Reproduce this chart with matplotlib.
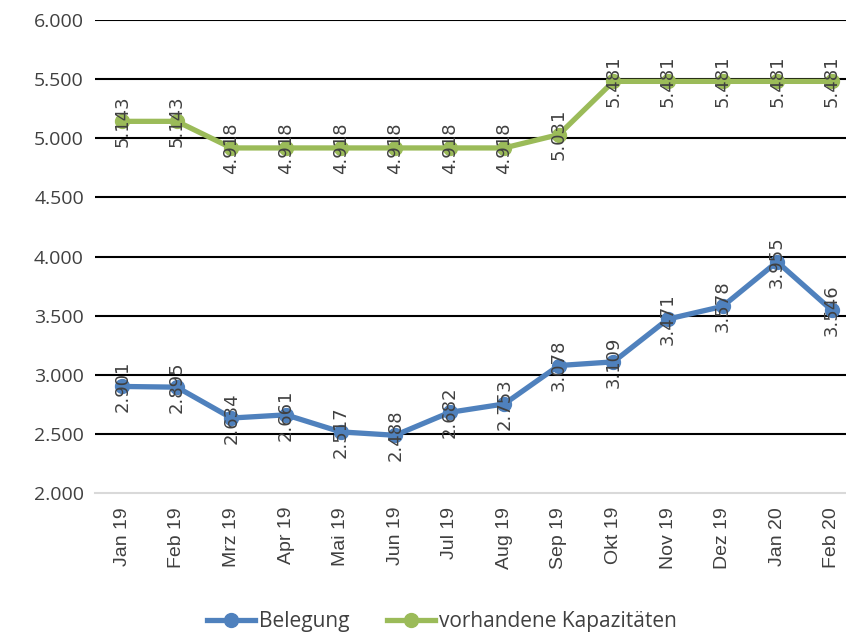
import matplotlib
matplotlib.use("Agg")
import matplotlib.pyplot as plt
import numpy as np

months = ["Jan 19", "Feb 19", "Mrz 19", "Apr 19", "Mai 19", "Jun 19", "Jul 19",
          "Aug 19", "Sep 19", "Okt 19", "Nov 19", "Dez 19", "Jan 20", "Feb 20"]
belegung = [2.901, 2.895, 2.634, 2.661, 2.517, 2.488, 2.682,
            2.753, 3.078, 3.109, 3.471, 3.578, 3.955, 3.546]
kapazitaet = [5.143, 5.143, 4.918, 4.918, 4.918, 4.918, 4.918,
              4.918, 5.031, 5.481, 5.481, 5.481, 5.481, 5.481]

blue = "#4F81BD"
green = "#9BBB59"
txt = "#404040"

fig = plt.figure(figsize=(8.46, 6.36), dpi=100)
# plot area runs a bit past the right edge, as in the cropped original
ax = fig.add_axes([95 / 846, 1 - 493 / 636, 764 / 846, 473 / 636])

x = np.arange(len(months))
ax.plot(x, belegung, color=blue, lw=3.8, marker="o", ms=10, label="Belegung",
        solid_joinstyle="round", zorder=3)
ax.plot(x, kapazitaet, color=green, lw=3.8, marker="o", ms=10,
        label="vorhandene Kapazitäten", solid_joinstyle="round", zorder=3)

# data labels, rotated and centred on the points
for series in (belegung, kapazitaet):
    for xi, v in zip(x, series):
        ax.text(xi, v, f"{v:.3f}", rotation=90, ha="center", va="center",
                fontsize=13, color=txt, zorder=4, family="DejaVu Sans")

ax.set_xlim(-0.5, len(months) - 0.5)
ax.set_ylim(2.0, 6.0)
yt = np.arange(2.0, 6.01, 0.5)
ax.set_yticks(yt)
ax.set_yticklabels([f"{v:.3f}" for v in yt], family="Open Sans", fontsize=14, color=txt)
ax.set_xticks(x)
ax.set_xticklabels(months, rotation=90, family="Liberation Sans", fontsize=14, color=txt)
ax.tick_params(length=0, pad=10)
ax.tick_params(axis="y", pad=8)

for t in yt[1:]:
    ax.axhline(t, color="black", lw=1.5, zorder=1)
for s in ["top", "left", "right"]:
    ax.spines[s].set_visible(False)
ax.spines["bottom"].set_color("#d9d9d9")
ax.spines["bottom"].set_linewidth(1.5)

leg = fig.legend(loc="center", bbox_to_anchor=(442 / 846, 1 - 622 / 636), ncol=2,
                 frameon=False, prop={"family": "Open Sans", "size": 15},
                 handlelength=2.3, handletextpad=0.2, columnspacing=1.8)
for t in leg.get_texts():
    t.set_color(txt)

fig.savefig("out.png", dpi=100)
